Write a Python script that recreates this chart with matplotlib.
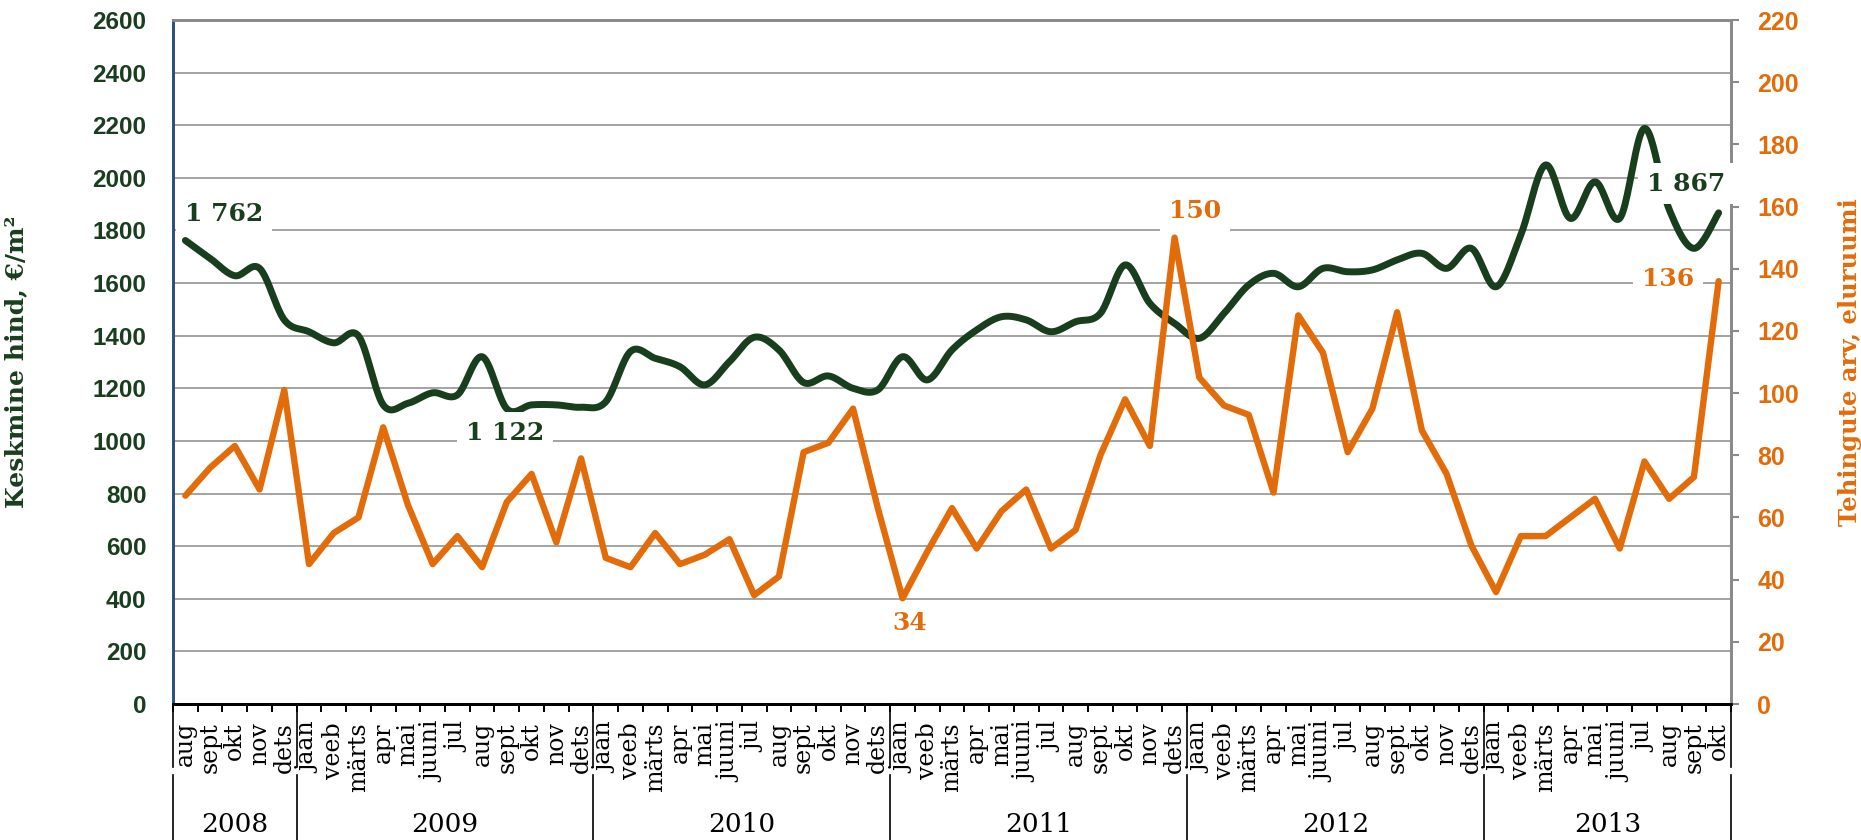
import numpy as np
import matplotlib
matplotlib.use("Agg")
import matplotlib.pyplot as plt
import matplotlib.transforms as mtrans
from matplotlib.lines import Line2D

# ---------------- data ----------------
years = ["2008", "2009", "2010", "2011", "2012", "2013"]
month_names = ["jaan", "veeb", "märts", "apr", "mai", "juuni",
               "jul", "aug", "sept", "okt", "nov", "dets"]
months_per_year = [5, 12, 12, 12, 12, 10]   # aug 2008 .. okt 2013
first_month = 7                              # aug

price = [1762, 1694, 1628, 1656, 1460,
         1415, 1373, 1399, 1137, 1143, 1183, 1175, 1320, 1122, 1137, 1137, 1128,
         1149, 1340, 1314, 1282, 1213, 1301, 1394, 1346, 1222, 1247, 1200, 1194,
         1320, 1232, 1346, 1422, 1472, 1460, 1415, 1453, 1485, 1669, 1523, 1447,
         1390, 1485, 1593, 1637, 1586, 1656, 1643, 1650, 1688, 1713, 1656, 1732,
         1586, 1783, 2049, 1846, 1985, 1846, 2188, 1880, 1732, 1867]

deals = [67, 76, 83, 69, 101,
         45, 55, 60, 89, 64, 45, 54, 44, 65, 74, 52, 79,
         47, 44, 55, 45, 48, 53, 35, 41, 81, 84, 95, 63,
         34, 49, 63, 50, 62, 69, 50, 56, 80, 98, 83, 150,
         105, 96, 93, 68, 125, 113, 81, 95, 126, 88, 74, 51,
         36, 54, 54, 60, 66, 50, 78, 66, 73, 136]

left_ticks = list(range(0, 2601, 200))
right_ticks = list(range(0, 221, 20))

# labelled points: (index, text)
price_labels = [(0, "1 762"), (13, "1 122"), (62, "1 867")]
deal_labels = [(29, "34"), (40, "150"), (62, "136")]

# ---------------- styling ----------------
GREEN = "#193E1E"
ORANGE = "#E36C0A"
W, H = 1861, 840
fig = plt.figure(figsize=(W / 100, H / 100), dpi=100)
L, R, B, T = 173, 1731, 704, 20
ax = fig.add_axes([L / W, 1 - B / H, (R - L) / W, (B - T) / H])
ax2 = ax.twinx()

month_labels = []
idx = first_month
for n in months_per_year:
    for k in range(n):
        month_labels.append(month_names[idx % 12])
        idx += 1
    idx = 0
x = np.arange(len(price))


def smooth(xv, yv, n=24):
    xv = np.asarray(xv, float)
    yv = np.asarray(yv, float)
    P = np.column_stack([xv, yv])
    out = [P[0]]
    t = np.linspace(0, 1, n)[1:]
    for i in range(len(P) - 1):
        p0 = P[i - 1] if i > 0 else P[i]
        p1 = P[i]
        p2 = P[i + 1]
        p3 = P[i + 2] if i + 2 < len(P) else P[i + 1]
        c1 = p1 + (p2 - p0) / 6
        c2 = p2 - (p3 - p1) / 6
        for tt in t:
            b = ((1 - tt) ** 3) * p1 + 3 * ((1 - tt) ** 2) * tt * c1 + \
                3 * (1 - tt) * tt ** 2 * c2 + tt ** 3 * p2
            out.append(b)
    out = np.array(out)
    return out[:, 0], out[:, 1]


sx, sy = smooth(x, price)
ax.plot(sx, sy, color=GREEN, lw=5, solid_capstyle="round", zorder=3)
ax2.plot(x, deals, color=ORANGE, lw=4.6, solid_joinstyle="round",
         solid_capstyle="round", zorder=3)

ax.set_xlim(-0.5, len(price) - 0.5)
ax.set_ylim(0, 2600)
ax2.set_ylim(0, 220)

ax.set_yticks(left_ticks)
ax.yaxis.grid(True, color="#8a8a8a", lw=1.1)
ax.set_axisbelow(True)
ax.tick_params(axis="y", length=0, pad=19, labelsize=17.5, labelcolor=GREEN)
for lab in ax.get_yticklabels():
    lab.set_fontfamily("Liberation Sans")
    lab.set_fontweight("bold")

ax2.set_yticks(right_ticks)
ax2.tick_params(axis="y", length=6, width=1.5, color="#8a8a8a", pad=13,
                labelsize=18, labelcolor=ORANGE)
for lab in ax2.get_yticklabels():
    lab.set_fontfamily("Liberation Sans")
    lab.set_fontweight("bold")

ax.set_xticks(x)
ax.set_xticklabels(month_labels, rotation=90, fontsize=17,
                   fontfamily="DejaVu Serif", va="top", ha="center")
ax.set_xticks(np.arange(-0.5, len(price)), minor=True)
ax.tick_params(axis="x", which="major", length=0, pad=13)
ax.tick_params(axis="x", which="minor", length=6, width=1.4, color="black",
               direction="out")

for a in (ax, ax2):
    a.spines["left"].set_color("#2F4F80")
    a.spines["left"].set_linewidth(2)
    a.spines["right"].set_color("#8a8a8a")
    a.spines["right"].set_linewidth(2)
    a.spines["top"].set_color("#8a8a8a")
    a.spines["top"].set_linewidth(2)
    a.spines["bottom"].set_color("black")
    a.spines["bottom"].set_linewidth(2)

ax.set_ylabel("Keskmine hind, €/m²", fontsize=18, fontweight="bold",
              fontfamily="DejaVu Serif", color=GREEN)
ax.yaxis.set_label_coords(-(L - 28) / (R - L), 0.5)
ax2.set_ylabel("Tehingute arv, eluruumi", fontsize=17.5, fontweight="bold",
               fontfamily="DejaVu Serif", color=ORANGE, rotation=90)
ax2.yaxis.set_label_coords(1 + (1838 - R) / (R - L), 0.5)

# year separators and labels
trans = mtrans.blended_transform_factory(ax.transData, fig.transFigure)
bounds = np.concatenate([[0], np.cumsum(months_per_year)]) - 0.5
for bnd in bounds:
    ax.add_line(Line2D([bnd, bnd], [1 - 704 / H, 1 - 767 / H], transform=trans,
                       color="black", lw=1.2, clip_on=False))
    ax.add_line(Line2D([bnd, bnd], [1 - 775 / H, 0], transform=trans,
                       color="black", lw=1.2, clip_on=False))
for yr, a0, a1 in zip(years, bounds[:-1], bounds[1:]):
    ax.text((a0 + a1) / 2, 1 - 824 / H, yr, transform=trans, ha="center",
            va="center", fontsize=19, fontfamily="DejaVu Serif", color="black")

# data labels
offsets_p = {0: (28, 19), 13: (-1.5, -17.5), 62: (-23.5, 21)}
offsets_d = {29: (5, -17.5), 40: (14.5, 19), 62: (-36.5, 1.5)}
bbox = dict(boxstyle="square,pad=0.35", fc="white", ec="none")
for i, txt in price_labels:
    ax2.annotate(txt, xy=(i, price[i] / 2600 * 220), xytext=offsets_p[i],
                 textcoords="offset points", ha="center", va="center",
                 fontsize=18, fontweight="bold", fontfamily="DejaVu Serif",
                 color=GREEN, bbox=bbox, zorder=10, annotation_clip=False)
for i, txt in deal_labels:
    ax2.annotate(txt, xy=(i, deals[i]), xytext=offsets_d[i],
                 textcoords="offset points", ha="center", va="center",
                 fontsize=18, fontweight="bold", fontfamily="DejaVu Serif",
                 color=ORANGE, bbox=bbox if i != 29 else None, zorder=10,
                 annotation_clip=False)

fig.savefig("out.png", dpi=100, facecolor="white")
